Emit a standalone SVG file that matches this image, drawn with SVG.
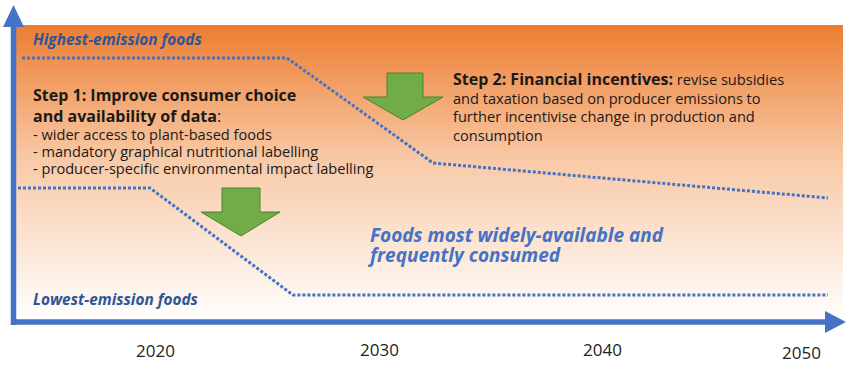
<svg xmlns="http://www.w3.org/2000/svg" width="850" height="367" viewBox="0 0 850 367">
<defs>
<linearGradient id="bg" x1="0" y1="0" x2="0" y2="1">
<stop offset="0" stop-color="#ED7D31"/>
<stop offset="0.45" stop-color="#F8C9A6"/>
<stop offset="1" stop-color="#FFFFFF"/>
</linearGradient>
</defs>
<style>
.t{font-family:"Open Sans","Liberation Sans",sans-serif;fill:#1a1a1a}
.h{font-weight:bold;font-size:16px}
.r{font-size:14.6px}
.lab{font-family:"Open Sans","Liberation Sans",sans-serif;font-weight:bold;font-style:italic;fill:#2F5597;font-size:15.4px}
.big{font-family:"Open Sans","Liberation Sans",sans-serif;font-weight:bold;font-style:italic;fill:#4472C4;font-size:19px}
.yr{font-family:"Open Sans","Liberation Sans",sans-serif;font-size:17px;fill:#222}
.dot{fill:none;stroke:#4472C4;stroke-width:3;stroke-dasharray:3 2}
.axis{stroke:#4472C4;stroke-width:5.5;fill:none}
.ah{fill:#4472C4}
.garrow{fill:#70AD47;stroke:#507E32;stroke-width:1}
</style>
<rect id="background" x="16" y="25" width="827" height="297" fill="url(#bg)"/>
<g id="connectors">
<path class="dot" d="M22,58 L287,58 L433,163 L828,198"/>
<path class="dot" d="M18,188 L150,188 L293,295 L828,295"/>
<line class="axis" x1="13.5" y1="24" x2="13.5" y2="325"/>
<polygon class="ah" points="13.5,5 24,27 3,27"/>
<line class="axis" x1="11" y1="322" x2="827" y2="322"/>
<polygon class="ah" points="846,322 825,311 825,333"/>
</g>
<g id="arrow-step2">
<polygon class="garrow" points="387,73 423,73 423,97 443,97 403,120 363,97 387,97"/>
</g>
<g id="arrow-step1">
<polygon class="garrow" points="222,188 260,188 260,212 280,212 241,236 201,212 222,212"/>
</g>
<g id="label-highest"><text class="lab" x="33" y="45">Highest-emission foods</text></g>
<g id="label-lowest"><text class="lab" x="33" y="305">Lowest-emission foods</text></g>
<g id="step1">
<text class="t h" x="33" y="101">Step 1: Improve consumer choice</text>
<text class="t h" x="33" y="122">and availability of data<tspan font-weight="normal">:</tspan></text>
<text class="t r" x="33" y="140">- wider access to plant-based foods</text>
<text class="t r" x="33" y="157">- mandatory graphical nutritional labelling</text>
<text class="t r" x="33" y="174">- producer-specific environmental impact labelling</text>
</g>
<g id="step2">
<text class="t r" x="453" y="85"><tspan font-weight="bold" font-size="16px">Step 2: Financial incentives:</tspan> revise subsidies</text>
<text class="t r" x="453" y="104">and taxation based on producer emissions to</text>
<text class="t r" x="453" y="122">further incentivise change in production and</text>
<text class="t r" x="453" y="141">consumption</text>
</g>
<g id="label-widely">
<text class="big" x="370" y="242">Foods most widely-available and</text>
<text class="big" x="370" y="262">frequently consumed</text>
</g>
<g id="years">
<text class="yr" x="136" y="357">2020</text>
<text class="yr" x="360" y="356">2030</text>
<text class="yr" x="583" y="356">2040</text>
<text class="yr" x="782" y="359">2050</text>
</g>
</svg>
